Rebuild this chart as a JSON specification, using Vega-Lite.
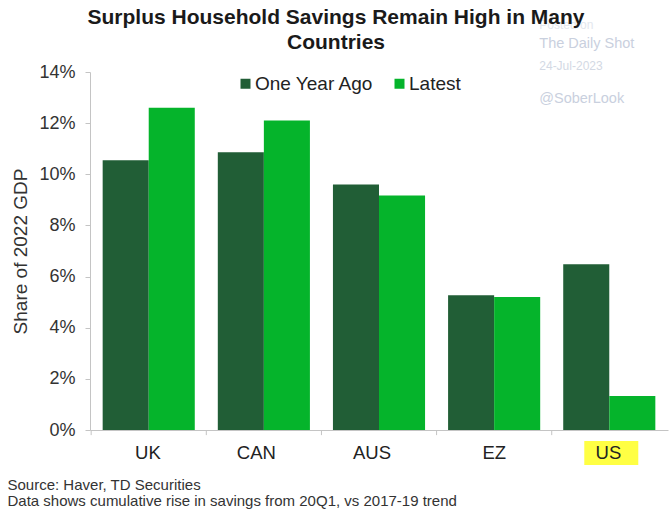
{
  "$schema": "https://vega.github.io/schema/vega-lite/v6.json",
  "width": 578,
  "height": 358,
  "autosize": {"type": "none"},
  "padding": {"left": 90, "top": 72, "right": 1, "bottom": 79},
  "background": "white",
  "config": {
    "font": "Liberation Sans",
    "view": {"stroke": null}
  },
  "title": {
    "text": ["Surplus Household Savings Remain High in Many", "Countries"],
    "font": "Liberation Sans",
    "fontSize": 21,
    "fontWeight": "bold",
    "color": "#1a1a1a",
    "lineHeight": 25,
    "anchor": "middle",
    "frame": "group",
    "dx": -43,
    "offset": -34.5
  },
  "datasets": {
    "bars": [
      {"country": "UK", "series": "One Year Ago", "value": 10.55},
      {"country": "UK", "series": "Latest", "value": 12.6},
      {"country": "CAN", "series": "One Year Ago", "value": 10.86},
      {"country": "CAN", "series": "Latest", "value": 12.1},
      {"country": "AUS", "series": "One Year Ago", "value": 9.6},
      {"country": "AUS", "series": "Latest", "value": 9.17},
      {"country": "EZ", "series": "One Year Ago", "value": 5.27},
      {"country": "EZ", "series": "Latest", "value": 5.2},
      {"country": "US", "series": "One Year Ago", "value": 6.48},
      {"country": "US", "series": "Latest", "value": 1.33}
    ],
    "ticks": [
      {"country": "UK"},
      {"country": "CAN"},
      {"country": "AUS"},
      {"country": "EZ"},
      {"country": "US"}
    ],
    "marks": [
      {"text": "Posted on", "country": "US", "level": 15.84, "col": "#e3e7ee", "size": 12},
      {"text": "The Daily Shot", "country": "US", "level": 15.1, "col": "#c9d0de", "size": 14.5},
      {"text": "24-Jul-2023", "country": "US", "level": 14.25, "col": "#d3d9e4", "size": 12},
      {"text": "@SoberLook", "country": "US", "level": 12.95, "col": "#c9d0de", "size": 14.5}
    ]
  },
  "layer": [
    {
      "data": {"values": [{"country": "US"}]},
      "mark": {"type": "bar", "color": "#ffff44", "width": 54, "clip": false, "xOffset": 2},
      "encoding": {
        "x": {"field": "country", "type": "nominal", "sort": ["UK", "CAN", "AUS", "EZ", "US"]},
        "y": {"datum": -0.43},
        "y2": {"datum": -1.37}
      }
    },
    {
      "data": {"name": "bars"},
      "mark": {"type": "bar"},
      "encoding": {
        "x": {
          "field": "country",
          "type": "nominal",
          "sort": ["UK", "CAN", "AUS", "EZ", "US"],
          "scale": {"paddingInner": 0.2, "paddingOuter": 0.11},
          "axis": {
            "zindex": 1,
            "labelAngle": 0,
            "labelFontSize": 18.5,
            "labelColor": "#222222",
            "labelPadding": 22,
            "labelOffset": 12,
            "domainColor": "#c4c4c4",
            "ticks": false,
            "title": ["Source: Haver, TD Securities", "Data shows cumulative rise in savings from 20Q1, vs 2017-19 trend"],
            "titleFontSize": 15,
            "titleFontWeight": "normal",
            "titleColor": "#333333",
            "titleAlign": "left",
            "titleAnchor": "start",
            "titleBaseline": "top",
            "titleX": -83,
            "titleY": 47,
            "titleLineHeight": 16
          }
        },
        "xOffset": {"field": "series", "type": "nominal", "sort": ["One Year Ago", "Latest"]},
        "y": {
          "field": "value",
          "type": "quantitative",
          "scale": {"domain": [0, 14]},
          "axis": {
            "values": [0, 2, 4, 6, 8, 10, 12, 14],
            "labelExpr": "datum.value + '%'",
            "grid": false,
            "labelFontSize": 18,
            "labelColor": "#333333",
            "labelPadding": 10,
            "domainColor": "#c4c4c4",
            "tickColor": "#c4c4c4",
            "tickSize": 5,
            "title": "Share of 2022 GDP",
            "titleFontSize": 19,
            "titleFontWeight": "normal",
            "titleColor": "#333333",
            "titlePadding": 8
          }
        },
        "color": {
          "field": "series",
          "type": "nominal",
          "sort": ["One Year Ago", "Latest"],
          "scale": {"domain": ["One Year Ago", "Latest"], "range": ["#215e36", "#05b42b"]},
          "legend": {
            "title": null,
            "orient": "none",
            "direction": "horizontal",
            "legendX": 146,
            "legendY": 2,
            "symbolType": "square",
            "symbolSize": 100,
            "symbolStrokeWidth": 0,
            "labelFontSize": 19,
            "labelColor": "#222222",
            "columnPadding": 16,
            "labelOffset": 0
          }
        }
      }
    },
    {
      "data": {"name": "ticks"},
      "mark": {"type": "rule", "color": "#c4c4c4", "xOffset": -11.5, "clip": false},
      "encoding": {
        "x": {"field": "country", "type": "nominal", "sort": ["UK", "CAN", "AUS", "EZ", "US"], "bandPosition": 0},
        "y": {"datum": 0},
        "y2": {"datum": -0.2}
      }
    },
    {
      "data": {"name": "marks"},
      "mark": {"type": "text", "clip": false, "align": "left", "baseline": "middle", "dx": -70},
      "encoding": {
        "x": {"field": "country", "type": "nominal", "sort": ["UK", "CAN", "AUS", "EZ", "US"]},
        "y": {"field": "level", "type": "quantitative"},
        "text": {"field": "text"},
        "size": {"field": "size", "type": "quantitative", "scale": null},
        "color": {"field": "col", "type": "nominal", "scale": null}
      }
    }
  ]
}
